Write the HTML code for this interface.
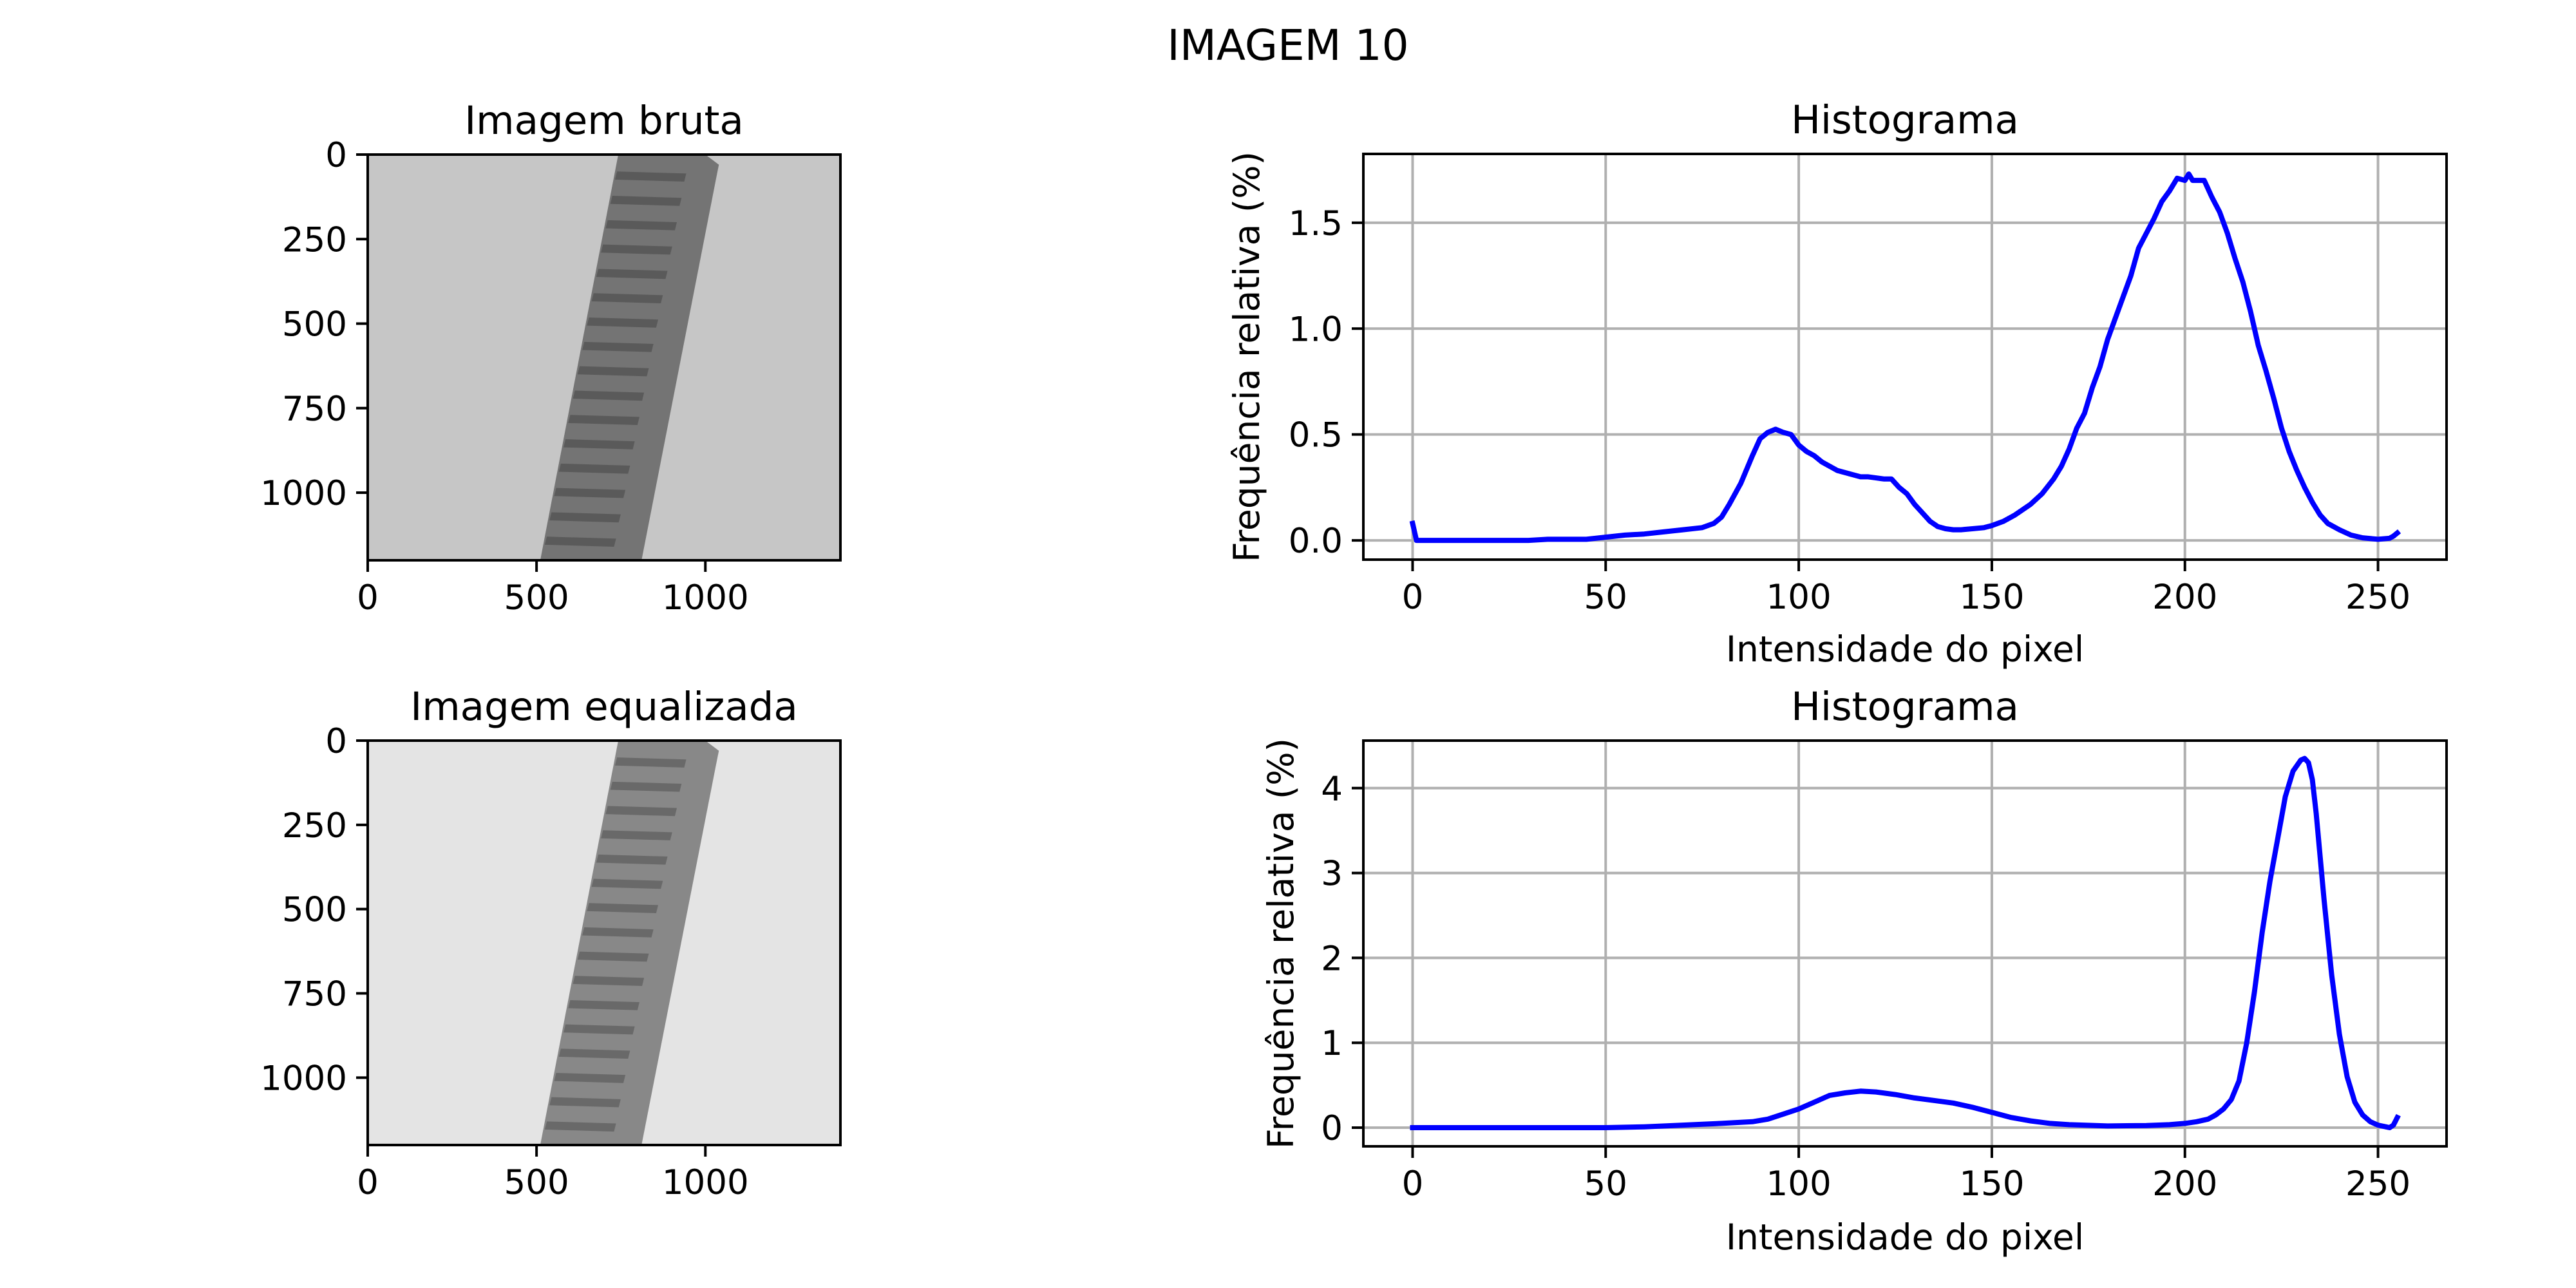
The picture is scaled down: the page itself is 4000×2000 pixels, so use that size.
<!DOCTYPE html>
<html><head><meta charset="utf-8"><style>
html,body{margin:0;padding:0;background:#fff;}
svg{display:block;font-family:"DejaVu Sans","Liberation Sans",sans-serif;}
</style></head><body>
<svg id="fig" width="4000" height="2000" viewBox="0 0 4000 2000" xmlns="http://www.w3.org/2000/svg">
<rect width="4000" height="2000" fill="#fff"/>
<text x="2000" y="93" font-size="66" text-anchor="middle">IMAGEM 10</text>
<g id="imgs"></g>
<g id="plots"></g>
</svg>
<script>
// Histogram of raw image (intensity, relative frequency %)
const rawX = [0,1,5,10,20,30,35,40,45,50,55,60,65,70,75,78,80,82,85,88,90,92,94,96,98,100,102,104,106,108,110,112,114,116,118,120,122,124,126,128,130,132,134,136,138,140,142,145,148,150,153,156,160,163,166,168,170,172,174,176,178,180,182,184,186,188,190,192,194,196,198,200,201,202,204,205,207,209,211,213,215,217,219,221,223,225,227,229,231,233,235,237,240,243,246,250,253,254,255];
const rawY = [0.08,0.0,0.0,0.0,0.0,0.0,0.005,0.005,0.005,0.015,0.025,0.03,0.04,0.05,0.06,0.08,0.11,0.17,0.27,0.4,0.48,0.51,0.525,0.51,0.5,0.45,0.42,0.4,0.37,0.35,0.33,0.32,0.31,0.3,0.3,0.295,0.29,0.29,0.25,0.22,0.17,0.13,0.09,0.065,0.055,0.05,0.05,0.055,0.06,0.07,0.09,0.12,0.17,0.22,0.29,0.35,0.43,0.53,0.6,0.72,0.82,0.95,1.05,1.15,1.25,1.38,1.45,1.52,1.6,1.65,1.71,1.7,1.73,1.7,1.7,1.7,1.62,1.55,1.45,1.33,1.22,1.08,0.92,0.8,0.67,0.53,0.42,0.33,0.25,0.18,0.12,0.08,0.05,0.025,0.012,0.005,0.01,0.02,0.035];
// Histogram of equalized image
const eqX = [0,50,60,70,80,88,92,96,100,104,108,112,116,120,125,130,135,140,145,150,155,160,165,170,180,190,196,200,203,206,208,210,212,214,216,218,220,222,224,226,228,230,231,232,233,234,235,236,238,240,242,244,246,248,250,252,253,254,255];
const eqY = [0,0,0.01,0.03,0.05,0.07,0.1,0.16,0.22,0.3,0.38,0.41,0.43,0.42,0.39,0.35,0.32,0.29,0.24,0.18,0.12,0.08,0.05,0.035,0.02,0.025,0.035,0.05,0.07,0.1,0.15,0.22,0.33,0.55,1.0,1.6,2.3,2.9,3.4,3.9,4.2,4.33,4.35,4.3,4.1,3.7,3.2,2.7,1.8,1.1,0.6,0.3,0.15,0.07,0.03,0.01,0.0,0.03,0.12];
const histXTicks = [0,50,100,150,200,250];
const rawYTicks = [0.0,0.5,1.0,1.5];
const rawYTickLabels = ["0.0","0.5","1.0","1.5"];
const eqYTicks = [0,1,2,3,4];
const eqYTickLabels = ["0","1","2","3","4"];
const imgXTicks = [0,500,1000];
const imgYTicks = [0,250,500,750,1000];

const NS='http://www.w3.org/2000/svg';
function mk(tag, attrs, parent){const e=document.createElementNS(NS,tag);for(const k in attrs)e.setAttribute(k,attrs[k]);parent.appendChild(e);return e;}
const FS=53;
const LFS=55;

function axesFrame(g,L,T,R,B){
  const f=mk('rect',{x:L,y:T,width:R-L,height:B-T,fill:'none',stroke:'#000','stroke-width':4},g);
  
  
}
function xTick(g,px,B,label){
  const t=mk('line',{x1:px,y1:B,x2:px,y2:B+18,stroke:'#000','stroke-width':4},g);
  
  
  const tx=mk('text',{x:px,y:B+76,'font-size':FS,'text-anchor':'middle'},g);
  tx.textContent=label;
  
  
}
function yTick(g,py,L,label){
  const t=mk('line',{x1:L-18,y1:py,x2:L,y2:py,stroke:'#000','stroke-width':4},g);
  
  
  const tx=mk('text',{x:L-32,y:py+19,'font-size':FS,'text-anchor':'end'},g);
  tx.textContent=label;
  
  
}

function histPlot(T,B,xs,ys,yMin,yMax,yt,ytl,ylabX,xlabY,name){
  const L=2117,R=3799,xMin=-12.75,xMax=267.75;
  const g=mk('g',{},document.getElementById('plots'));
  
  
  const sx=v=>L+(v-xMin)/(xMax-xMin)*(R-L);
  const sy=v=>B-(v-yMin)/(yMax-yMin)*(B-T);
  histXTicks.forEach(v=>{const l=mk('line',{x1:sx(v),y1:T,x2:sx(v),y2:B,stroke:'#b0b0b0','stroke-width':4},g);
    
    });
  yt.forEach(v=>{const l=mk('line',{x1:L,y1:sy(v),x2:R,y2:sy(v),stroke:'#b0b0b0','stroke-width':4},g);
    
    });
  const d=xs.map((x,i)=>(i?'L':'M')+sx(x).toFixed(1)+' '+sy(ys[i]).toFixed(1)).join(' ');
  const p=mk('path',{d:d,fill:'none',stroke:'#0000ff','stroke-width':8,'stroke-linejoin':'round','stroke-linecap':'square'},g);
  
  
  axesFrame(g,L,T,R,B);
  histXTicks.forEach(v=>xTick(g,sx(v),B,String(v)));
  yt.forEach((v,i)=>yTick(g,sy(v),L,ytl[i]));
  const ti=mk('text',{x:(L+R)/2,y:T-32,'font-size':61,'text-anchor':'middle'},g);
  ti.textContent='Histograma';
  
  
  const xl=mk('text',{x:(L+R)/2,y:xlabY,'font-size':LFS,'text-anchor':'middle'},g);
  xl.textContent='Intensidade do pixel';
  
  
  const cy=(T+B)/2;
  const yl=mk('text',{x:ylabX,y:cy,'font-size':LFS,'text-anchor':'middle',transform:`rotate(-90 ${ylabX} ${cy})`},g);
  yl.textContent='Frequência relativa (%)';
  
  
}
histPlot(239,869,rawX,rawY,-0.091,1.825,rawYTicks,rawYTickLabels,1955,1027,'histogram-raw');
histPlot(1150,1780,eqX,eqY,-0.22,4.56,eqYTicks,eqYTickLabels,2008,1940,'histogram-equalized');

function imgPanel(T,B,bg,strip,band,title,name){
  const L=571,R=1305;
  const g=mk('g',{},document.getElementById('imgs'));
  
  
  const s=(R-L)/1400, sy=(B-T)/1200;
  const X=v=>L+v*s, Y=v=>T+v*sy;
  mk('rect',{x:L,y:T,width:R-L,height:B-T,fill:bg},g);
  const pts=[[742,0],[1000,0],[1040,30],[1030,80],[811,1200],[511,1200]];
  const poly=mk('polygon',{points:pts.map(p=>X(p[0])+','+Y(p[1])).join(' '),fill:strip},g);
  
  
  for(let k=0;k<16;k++){
    const y0=50+k*72; if(y0>1170)break;
    const xl=742-(y0/1200)*231+6, xr=xl+205;
    const r=mk('polygon',{points:[[xl,y0],[xr,y0+6],[xr-6,y0+30],[xl-6,y0+24]].map(p=>X(p[0])+','+Y(p[1])).join(' '),fill:band,opacity:0.6},g);
    
    
  }
  axesFrame(g,L,T,R,B);
  imgXTicks.forEach(v=>xTick(g,X(v),B,String(v)));
  imgYTicks.forEach(v=>yTick(g,Y(v),L,String(v)));
  const ti=mk('text',{x:(L+R)/2,y:T-32,'font-size':61,'text-anchor':'middle'},g);
  ti.textContent=title;
  
  
}
imgPanel(240,870,'#c6c6c6','#747474','#4a4a4a','Imagem bruta','raw-image');
imgPanel(1150,1778,'#e4e4e4','#888888','#555555','Imagem equalizada','equalized-image');
</script>
</body></html>
